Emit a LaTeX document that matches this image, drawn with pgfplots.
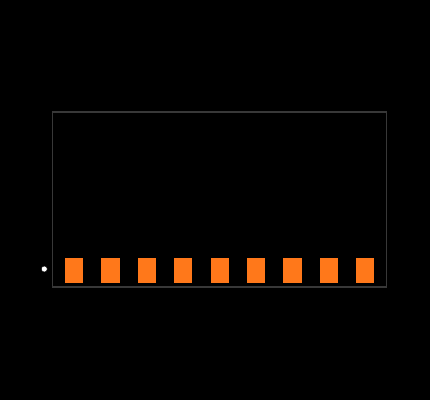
\documentclass[border=0pt]{standalone}
\usepackage{pgfplots}
\pgfplotsset{compat=1.18}
\definecolor{framegray}{HTML}{383838}
\definecolor{padorange}{HTML}{FF781A}

\begin{document}
\begin{tikzpicture}[x=1pt,y=1pt]
  \fill[black] (0,0) rectangle (430,400);
  \begin{axis}[
    at={(52.5pt,113pt)}, anchor=south west,
    scale only axis, width=334.2pt, height=175pt,
    xmin=52.5, xmax=386.7, ymin=112, ymax=287,
    y dir=reverse, xtick=\empty, ytick=\empty,
    axis line style={framegray, line width=1.3pt},
    clip=false,
    pad/.style={fill=padorange, draw=none, mark=none},
  ]
    \addplot[pad] coordinates {(65,258) (83.3,258) (83.3,283.4) (65,283.4)} -- cycle;
    \addplot[pad] coordinates {(101.4,258) (119.6,258) (119.6,283.4) (101.4,283.4)} -- cycle;
    \addplot[pad] coordinates {(137.8,258) (156,258) (156,283.4) (137.8,283.4)} -- cycle;
    \addplot[pad] coordinates {(174.2,258) (192.4,258) (192.4,283.4) (174.2,283.4)} -- cycle;
    \addplot[pad] coordinates {(210.6,258) (228.8,258) (228.8,283.4) (210.6,283.4)} -- cycle;
    \addplot[pad] coordinates {(247,258) (265.2,258) (265.2,283.4) (247,283.4)} -- cycle;
    \addplot[pad] coordinates {(283.4,258) (301.6,258) (301.6,283.4) (283.4,283.4)} -- cycle;
    \addplot[pad] coordinates {(319.8,258) (338,258) (338,283.4) (319.8,283.4)} -- cycle;
    \addplot[pad] coordinates {(356.2,258) (374.4,258) (374.4,283.4) (356.2,283.4)} -- cycle;
    \addplot[only marks, mark=*, mark size=3pt, mark options={fill=white, draw=none}] coordinates {(44.3,269)};
  \end{axis}
\end{tikzpicture}
\end{document}
